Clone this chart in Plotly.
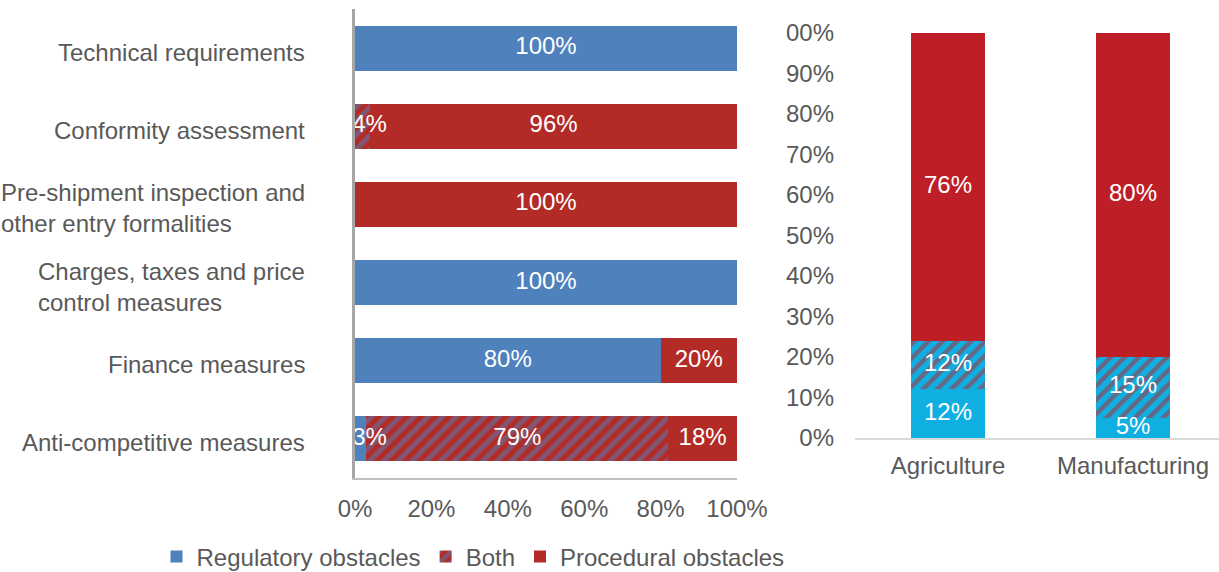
import plotly.graph_objects as go

# ---------------- data ----------------
measures = ["Technical requirements", "Conformity assessment",
            "Pre-shipment inspection and<br>other entry formalities",
            "Charges, taxes and price<br>control measures",
            "Finance measures", "Anti-competitive measures"]
regulatory = [100, 0, 0, 100, 80, 3]
both = [0, 4, 0, 0, 0, 79]
procedural = [0, 96, 100, 0, 20, 18]

sectors = ["Agriculture", "Manufacturing"]
sec_regulatory = [12, 5]
sec_both = [12, 15]
sec_procedural = [76, 80]

left_tickvals = [0, 20, 40, 60, 80, 100]
left_ticktext = ["0%", "20%", "40%", "60%", "80%", "100%"]
right_tickvals = [0, 10, 20, 30, 40, 50, 60, 70, 80, 90, 100]
right_ticktext = ["0%", "10%", "20%", "30%", "40%", "50%", "60%", "70%", "80%", "90%", "00%"]

# ---------------- style ----------------
BLUE = "#4F81BD"
RED = "#B22B26"
CYAN = "#0FAFE2"
RED2 = "#BE1F27"
GREY = "#595959"
FONT = "Liberation Sans, Arial, sans-serif"
FS = 24
W = 1219
H = 572

fig = go.Figure()

# left chart: horizontal stacked bars
series = [("Regulatory obstacles", regulatory, dict(color=BLUE)),
          ("Both", both, dict(color=RED, pattern=dict(shape="/", bgcolor=RED, fgcolor=BLUE,
                                                        size=10, solidity=0.5))),
          ("Procedural obstacles", procedural, dict(color=RED))]
for name, vals, mk in series:
    fig.add_trace(go.Bar(y=measures, x=vals, orientation="h", name=name, width=0.575,
                         marker=dict(line=dict(width=0), **mk),
                         xaxis="x", yaxis="y", hoverinfo="x+y+name"))

# left labels
tx, ty, tt = [], [], []
for i, m in enumerate(measures):
    start = 0
    for vals in (regulatory, both, procedural):
        v = vals[i]
        if v > 0:
            mid = start + v / 2
            tx.append(max(mid, 3.8))
            ty.append(m)
            tt.append(f"{v}%")
        start += v
fig.add_trace(go.Scatter(x=tx, y=ty, text=tt, mode="text", showlegend=False,
                         textfont=dict(color="white", size=FS, family=FONT),
                         cliponaxis=True, xaxis="x", yaxis="y", hoverinfo="skip"))

# right chart: vertical stacked bars
rseries = [("Regulatory obstacles", sec_regulatory, dict(color=CYAN)),
           ("Both", sec_both, dict(color=CYAN, pattern=dict(shape="/", bgcolor=CYAN, fgcolor=RED2,
                                                               size=10, solidity=0.45))),
           ("Procedural obstacles", sec_procedural, dict(color=RED2))]
for name, vals, mk in rseries:
    fig.add_trace(go.Bar(x=[0, 1], y=vals, name=name, width=0.405, showlegend=False,
                         marker=dict(line=dict(width=0), **mk),
                         xaxis="x2", yaxis="y2"))

rx, ry, rt = [], [], []
for i in range(len(sectors)):
    start = 0
    for vals in (sec_regulatory, sec_both, sec_procedural):
        v = vals[i]
        rx.append(i)
        ry.append(start + v / 2)
        rt.append(f"{v}%")
        start += v
fig.add_trace(go.Scatter(x=rx, y=ry, text=rt, mode="text", showlegend=False,
                         textfont=dict(color="white", size=FS, family=FONT),
                         cliponaxis=True, xaxis="x2", yaxis="y2", hoverinfo="skip"))

# category labels of left chart (left-aligned wrapped text)
for m in measures:
    fig.add_annotation(x=307 / W, xref="paper", y=m, yref="y", text=m, showarrow=False,
                       xanchor="right", align="left", yshift=-4,
                       font=dict(size=FS, color=GREY, family=FONT))

fig.update_layout(
    width=W, height=H, autosize=False,
    margin=dict(l=0, r=0, t=0, b=0, pad=0, autoexpand=False),
    paper_bgcolor="white", plot_bgcolor="white",
    barmode="stack",
    font=dict(family=FONT, size=FS, color=GREY),
    xaxis=dict(domain=[355 / W, 737 / W], range=[0, 100], tickvals=left_tickvals,
               ticktext=left_ticktext, showgrid=False, zeroline=False,
               showline=True, linecolor="#BFBFBF", linewidth=2,
               ticklabelstandoff=8, tickfont=dict(size=FS, color=GREY),
               anchor="y", automargin=False),
    yaxis=dict(domain=[(H - 478) / H, (H - 9) / H], autorange="reversed",
               showticklabels=False, showgrid=False, zeroline=False,
               showline=True, linecolor="#A6A6A6", linewidth=3, anchor="x",
               categoryorder="array", categoryarray=measures, automargin=False),
    xaxis2=dict(domain=[855 / W, 1.0], range=[-0.503, 1.465], tickvals=[0, 1],
                ticktext=sectors, showgrid=False, zeroline=False,
                showline=True, linecolor="#D9D9D9", linewidth=2,
                ticklabelstandoff=5, tickfont=dict(size=FS, color=GREY),
                anchor="y2", automargin=False),
    yaxis2=dict(domain=[(H - 438) / H, (H - 33) / H], range=[0, 100],
                tickvals=right_tickvals, ticktext=right_ticktext,
                showgrid=False, zeroline=False, showline=False,
                ticklabelstandoff=20, tickfont=dict(size=FS, color=GREY),
                anchor="x2", automargin=False),
    legend=dict(orientation="h", x=473 / W, xanchor="center", y=15 / H, yanchor="middle",
                font=dict(size=FS, color=GREY, family=FONT), itemwidth=30,
                traceorder="normal", bgcolor="rgba(0,0,0,0)"),
    showlegend=True,
)

fig.write_html("out.html")
